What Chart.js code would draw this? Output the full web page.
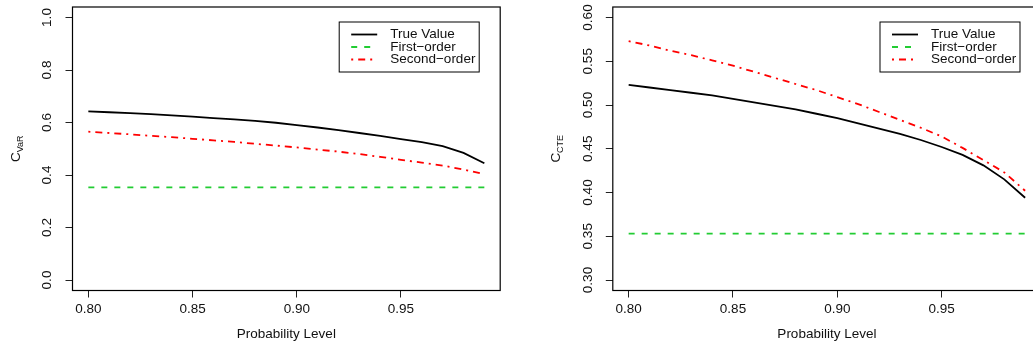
<!DOCTYPE html>
<html>
<head>
<meta charset="utf-8">
<script src="https://cdn.jsdelivr.net/npm/chart.js@4/dist/chart.umd.min.js"></script>
<style>
  html, body { margin: 0; padding: 0; background: #fff; overflow: hidden; width: 1033px; height: 345px; }
  #left { position: absolute; left: 0; top: 0; }
  #right { position: absolute; left: 516px; top: 0; }
</style>
</head>
<body>
<canvas id="left" width="516" height="345"></canvas>
<canvas id="right" width="530" height="345"></canvas>
<script>
// probability levels (x)
const probLevels = [0.80, 0.81, 0.82, 0.83, 0.84, 0.85, 0.86, 0.87, 0.88, 0.89,
                    0.90, 0.91, 0.92, 0.93, 0.94, 0.95, 0.96, 0.97, 0.98, 0.99];

// left panel: C_VaR
const varTrue   = [0.642, 0.639, 0.636, 0.632, 0.627, 0.622, 0.617, 0.612, 0.606, 0.599,
                   0.590, 0.581, 0.571, 0.560, 0.549, 0.537, 0.525, 0.510, 0.484, 0.445];
const varFirst  = [0.353, 0.353, 0.353, 0.353, 0.353, 0.353, 0.353, 0.353, 0.353, 0.353,
                   0.353, 0.353, 0.353, 0.353, 0.353, 0.353, 0.353, 0.353, 0.353, 0.353];
const varSecond = [0.565, 0.560, 0.555, 0.549, 0.544, 0.538, 0.532, 0.526, 0.519, 0.512,
                   0.505, 0.497, 0.489, 0.480, 0.469, 0.458, 0.447, 0.436, 0.421, 0.403];

// right panel: C_CTE
const cteTrue   = [0.523, 0.520, 0.517, 0.514, 0.511, 0.507, 0.503, 0.499, 0.495, 0.490,
                   0.485, 0.479, 0.473, 0.467, 0.460, 0.452, 0.443, 0.431, 0.415, 0.394];
const cteFirst  = [0.353, 0.353, 0.353, 0.353, 0.353, 0.353, 0.353, 0.353, 0.353, 0.353,
                   0.353, 0.353, 0.353, 0.353, 0.353, 0.353, 0.353, 0.353, 0.353, 0.353];
const cteSecond = [0.573, 0.568, 0.562, 0.557, 0.551, 0.545, 0.538, 0.531, 0.524, 0.517,
                   0.509, 0.501, 0.492, 0.483, 0.474, 0.464, 0.451, 0.437, 0.423, 0.402];

// ticks
const xTicks = [0.80, 0.85, 0.90, 0.95];
const xTickLabels = ["0.80", "0.85", "0.90", "0.95"];
const varYTicks = [0.0, 0.2, 0.4, 0.6, 0.8, 1.0];
const varYLabels = ["0.0", "0.2", "0.4", "0.6", "0.8", "1.0"];
const cteYTicks = [0.30, 0.35, 0.40, 0.45, 0.50, 0.55, 0.60];
const cteYLabels = ["0.30", "0.35", "0.40", "0.45", "0.50", "0.55", "0.60"];

const legendLabels = ["True Value", "First\u2212order", "Second\u2212order"];
const FONT = "'Liberation Sans', Arial, Helvetica, sans-serif";

const toPoints = vals => vals.map((v, i) => ({ x: probLevels[i], y: v }));

// R-style frame, tick labels, axis titles and legend
const rFrame = {
    id: "rFrame",
    afterDraw(chart, args, o) {
        const { ctx, chartArea: a, scales: { x, y } } = chart;
        ctx.save();
        ctx.strokeStyle = "#000";
        ctx.lineWidth = 1.2;
        ctx.strokeRect(a.left, a.top, a.right - a.left, a.bottom - a.top);

        ctx.fillStyle = "#111";
        ctx.font = "13.5px " + FONT;
        ctx.textAlign = "center";
        ctx.textBaseline = "middle";
        xTickLabels.forEach((t, i) => ctx.fillText(t, x.getPixelForValue(xTicks[i]), a.bottom + 19));
        ctx.fillText("Probability Level", (a.left + a.right) / 2, a.bottom + 44);

        o.yTicks.forEach((v, i) => {
            ctx.save();
            ctx.translate(a.left - 25, y.getPixelForValue(v));
            ctx.rotate(-Math.PI / 2);
            ctx.fillText(o.yLabels[i], 0, 0);
            ctx.restore();
        });

        // y title with subscript
        ctx.save();
        ctx.translate(a.left - 58, (a.top + a.bottom) / 2);
        ctx.rotate(-Math.PI / 2);
        ctx.textAlign = "left";
        ctx.textBaseline = "alphabetic";
        ctx.font = "13.5px " + FONT;
        const wC = ctx.measureText("C").width;
        ctx.font = "9px " + FONT;
        const wS = ctx.measureText(o.ySub).width;
        const x0 = -(wC + wS) / 2;
        ctx.font = "13.5px " + FONT;
        ctx.fillText("C", x0, 5);
        ctx.font = "9px " + FONT;
        ctx.fillText(o.ySub, x0 + wC, 8);
        ctx.restore();

        // legend
        const bw = 140, bh = 50;
        const bx = a.right - 21 - bw, by = a.top + 15;
        ctx.lineWidth = 1;
        ctx.strokeStyle = "#000";
        ctx.strokeRect(bx, by, bw, bh);
        ctx.font = "13.5px " + FONT;
        ctx.textAlign = "left";
        chart.data.datasets.forEach((ds, i) => {
            const ly = by + 12.5 + i * 12.5;
            ctx.beginPath();
            ctx.setLineDash(ds.borderDash);
            ctx.strokeStyle = ds.borderColor;
            ctx.lineWidth = ds.borderWidth;
            ctx.moveTo(bx + 12, ly);
            ctx.lineTo(bx + 38, ly);
            ctx.stroke();
            ctx.setLineDash([]);
            ctx.fillStyle = "#111";
            ctx.fillText(legendLabels[i], bx + 51, ly);
        });
        ctx.restore();
    }
};

function makePanel(id, cfg) {
    const ctx = document.getElementById(id).getContext("2d");
    return new Chart(ctx, {
        type: "line",
        data: {
            datasets: [
                { label: legendLabels[0], data: toPoints(cfg.trueVals), borderColor: "#000000", borderWidth: 1.8, borderDash: [] },
                { label: legendLabels[1], data: toPoints(cfg.firstVals), borderColor: "#22cc33", borderWidth: 1.8, borderDash: [6, 7] },
                { label: legendLabels[2], data: toPoints(cfg.secondVals), borderColor: "#ff0000", borderWidth: 1.8, borderDash: [2, 5, 7, 5] }
            ]
        },
        options: {
            responsive: false,
            animation: false,
            devicePixelRatio: 1,
            layout: { padding: { top: 7, right: cfg.padRight, left: 0, bottom: 0 } },
            elements: { point: { radius: 0 }, line: { tension: 0 } },
            plugins: {
                legend: { display: false },
                tooltip: { enabled: false },
                rFrame: { yTicks: cfg.yTicks, yLabels: cfg.yLabels, ySub: cfg.ySub }
            },
            scales: {
                x: {
                    type: "linear",
                    min: 0.7924,
                    max: 0.9976,
                    afterBuildTicks: s => { s.ticks = xTicks.map(v => ({ value: v })); },
                    afterFit: s => { s.height = 54.5; },
                    ticks: { display: false },
                    grid: { drawOnChartArea: false, tickLength: 7, color: "#222" },
                    border: { display: false }
                },
                y: {
                    type: "linear",
                    min: cfg.yMin,
                    max: cfg.yMax,
                    afterBuildTicks: s => { s.ticks = cfg.yTicks.map(v => ({ value: v })); },
                    afterFit: s => { s.width = cfg.yWidth; },
                    ticks: { display: false },
                    grid: { drawOnChartArea: false, tickLength: 7, color: "#222" },
                    border: { display: false }
                }
            }
        },
        plugins: [rFrame]
    });
}

makePanel("left", {
    trueVals: varTrue, firstVals: varFirst, secondVals: varSecond,
    yMin: -0.04, yMax: 1.04, yTicks: varYTicks, yLabels: varYLabels, ySub: "VaR",
    yWidth: 72.5, padRight: 15.8
});

makePanel("right", {
    trueVals: cteTrue, firstVals: cteFirst, secondVals: cteSecond,
    yMin: 0.288, yMax: 0.612, yTicks: cteYTicks, yLabels: cteYLabels, ySub: "CTE",
    yWidth: 96.8, padRight: 5
});
</script>
</body>
</html>
